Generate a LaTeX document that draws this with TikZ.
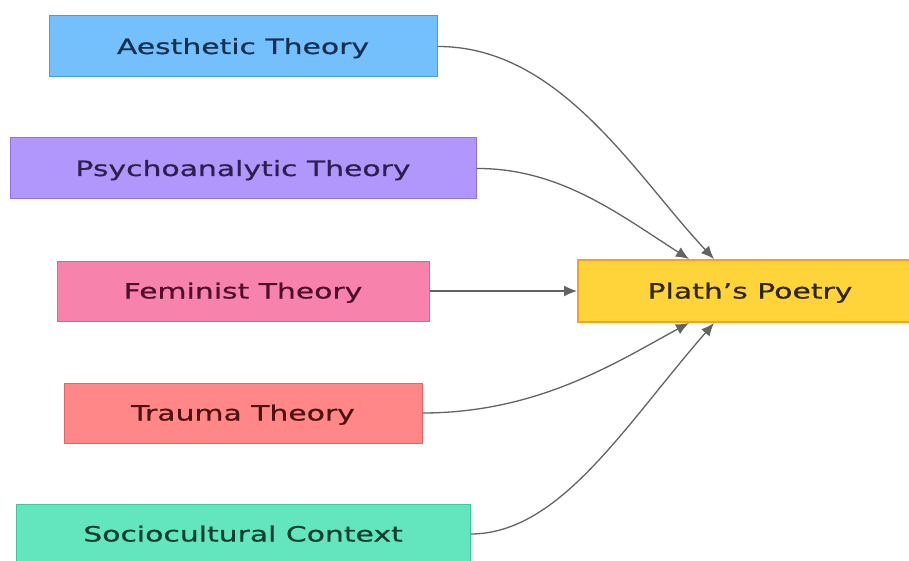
\documentclass[tikz,border=0pt]{standalone}
\usepackage{fontspec}
\setmainfont[FakeStretch=1.42,FakeBold=0.7]{DejaVu Sans}
\usetikzlibrary{arrows.meta}

\definecolor{aesfill}{HTML}{74C0FC}\definecolor{aesdraw}{HTML}{4C9BE0}\definecolor{aestext}{HTML}{16304F}
\definecolor{psyfill}{HTML}{B197FC}\definecolor{psydraw}{HTML}{8F72E8}\definecolor{psytext}{HTML}{2E1F4F}
\definecolor{femfill}{HTML}{F783AC}\definecolor{femdraw}{HTML}{D9658E}\definecolor{femtext}{HTML}{4F0F2A}
\definecolor{trafill}{HTML}{FF8787}\definecolor{tradraw}{HTML}{E06666}\definecolor{tratext}{HTML}{4F1212}
\definecolor{socfill}{HTML}{63E6BE}\definecolor{socdraw}{HTML}{3CC79E}\definecolor{soctext}{HTML}{0E3F2C}
\definecolor{plafill}{HTML}{FFD43B}\definecolor{pladraw}{HTML}{F5A31A}\definecolor{platext}{HTML}{2F2508}
\definecolor{linkgray}{HTML}{636363}

\begin{document}
\begin{tikzpicture}[
  x=1pt, y=-1pt,
  font=\fontsize{21}{25}\selectfont,
  theory/.style={draw, rectangle, line width=1pt, inner sep=0pt,
                 text height=15pt, text depth=0pt},
  target/.style={draw, rectangle, line width=2pt, inner sep=0pt,
                 text height=15pt, text depth=0pt,
                 fill=plafill, draw=pladraw, text=platext},
  link/.style={-{Latex[length=13pt,width=11pt]}, line width=1.3pt, linkgray},
]
  \useasboundingbox (0,0) rectangle (909,561);

  % sources
  \node[theory, fill=aesfill, draw=aesdraw, text=aestext,
        minimum width=388pt, minimum height=61pt] (aesthetic) at (243,46.5) {Aesthetic Theory};
  \node[theory, fill=psyfill, draw=psydraw, text=psytext,
        minimum width=466pt, minimum height=61pt] (psycho) at (243,168.5) {Psychoanalytic Theory};
  \node[theory, fill=femfill, draw=femdraw, text=femtext,
        minimum width=372pt, minimum height=60pt] (feminist) at (243,291) {Feminist Theory};
  \node[theory, fill=trafill, draw=tradraw, text=tratext,
        minimum width=358pt, minimum height=60pt] (trauma) at (243,413) {Trauma Theory};
  \node[theory, fill=socfill, draw=socdraw, text=soctext,
        minimum width=454pt, minimum height=60pt] (socio) at (243,534) {Sociocultural Context};

  % target
  \node[target, minimum width=344pt, minimum height=62pt] (plath) at (750,291) {Plath’s Poetry};

  % links
  \draw[link] (aesthetic.east) .. controls (560,46) and (635,175) .. ([xshift=137pt]plath.north west);
  \draw[link] (psycho.east) .. controls (560,168) and (620,215) .. ([xshift=112pt]plath.north west);
  \draw[link] (feminist.east) -- (plath.west);
  \draw[link] (trauma.east) .. controls (540,413) and (620,360) .. ([xshift=112pt]plath.south west);
  \draw[link] (socio.east) .. controls (560,534) and (625,425) .. ([xshift=137pt]plath.south west);
\end{tikzpicture}
\end{document}
